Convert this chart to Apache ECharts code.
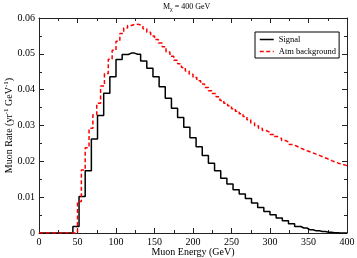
<!DOCTYPE html>
<html>
<head>
<meta charset="utf-8">
<script src="https://cdn.jsdelivr.net/npm/echarts@6/dist/echarts.min.js"></script>
<style>
  html, body { margin: 0; padding: 0; background: #fff; }
  #chart { width: 357px; height: 258px; }
</style>
</head>
<body>
<div id="chart"></div>
<script>
// Signal: 8 GeV bins, bin centres 0, 8, ..., 400 GeV
const signalBinWidth = 8;
const signalRate = [
  0, 0, 0, 0, 0, 0, 0.0018, 0.0102, 0.0174, 0.0262,
  0.0328, 0.0390, 0.0436, 0.0484, 0.0498, 0.0502, 0.0499, 0.0480, 0.0460, 0.0436,
  0.0408, 0.0376, 0.0348, 0.0322, 0.0295, 0.0266, 0.0241, 0.0216, 0.0195, 0.0174,
  0.0153, 0.0137, 0.0121, 0.0109, 0.0096, 0.0084, 0.0071, 0.0060, 0.0051, 0.0042,
  0.0034, 0.0026, 0.0018, 0.0014, 0.0009, 0.0006, 0.0004, 0.0002, 0.0001, 0,
  0
];
// Atmospheric background: 5 GeV bins, left edges 0, 5, ..., 395 GeV
const bgBinWidth = 5;
const bgRate = [
  0, 0, 0, 0, 0, 0, 0, 0, 0, 0,
  0.0088, 0.0176, 0.0238, 0.0292, 0.0330, 0.0362, 0.0410, 0.0445, 0.0485, 0.0510,
  0.0535, 0.0557, 0.0572, 0.0579, 0.0583, 0.0582, 0.0578, 0.0570, 0.0560, 0.0550,
  0.0540, 0.0530, 0.0520, 0.0505, 0.0493, 0.0482, 0.0472, 0.0462, 0.0452, 0.0443,
  0.0434, 0.0425, 0.0416, 0.0406, 0.0397, 0.0389, 0.0380, 0.0370, 0.0362, 0.0355,
  0.0347, 0.0340, 0.0333, 0.0325, 0.0316, 0.0307, 0.0299, 0.0292, 0.0286, 0.0281,
  0.0275, 0.0269, 0.0264, 0.0258, 0.0253, 0.0247, 0.0242, 0.0237, 0.0232, 0.0228,
  0.0224, 0.0220, 0.0216, 0.0211, 0.0207, 0.0202, 0.0198, 0.0194, 0.0191, 0.0188
];
const xTicks = [0, 50, 100, 150, 200, 250, 300, 350, 400];
const yTicks = [0, 0.01, 0.02, 0.03, 0.04, 0.05, 0.06];
const seriesNames = ['Signal', 'Atm background'];

const signalData = signalRate.map((v, i) => [i * signalBinWidth, v]);
const bgData = bgRate.map((v, i) => [i * bgBinWidth, v]);
bgData.push([bgRate.length * bgBinWidth, bgRate[bgRate.length - 1]]);

const FONT = 'Liberation Serif';
const AX = '#222';

function xAxisBase(pos, show) {
  return {
    type: 'value', position: pos,
    min: xTicks[0], max: xTicks[xTicks.length - 1], interval: xTicks[1] - xTicks[0],
    axisLine: { show: true, onZero: false, lineStyle: { color: AX, width: 1 } },
    axisTick: { show: true, inside: true, length: 5, lineStyle: { color: AX, width: 1 } },
    minorTick: { show: true, splitNumber: 2, length: 3, lineStyle: { color: AX, width: 1 } },
    splitLine: { show: false },
    axisLabel: { show: show, fontFamily: FONT, fontSize: 10, color: '#000', margin: 4 }
  };
}
function yAxisBase(pos, show) {
  return {
    type: 'value', position: pos,
    min: yTicks[0], max: yTicks[yTicks.length - 1], interval: yTicks[1] - yTicks[0],
    axisLine: { show: true, onZero: false, lineStyle: { color: AX, width: 1 } },
    axisTick: { show: true, inside: true, length: 5, lineStyle: { color: AX, width: 1 } },
    minorTick: { show: true, splitNumber: 2, length: 3, lineStyle: { color: AX, width: 1 } },
    splitLine: { show: false },
    axisLabel: { show: show, fontFamily: FONT, fontSize: 10, color: '#000', margin: 4 }
  };
}

const xBottom = Object.assign(xAxisBase('bottom', true), {
  name: 'Muon Energy (GeV)', nameLocation: 'middle', nameGap: 14, nameMoveOverlap: false,
  nameTextStyle: { fontFamily: FONT, fontSize: 10, color: '#000' }
});
const yLeft = Object.assign(yAxisBase('left', true), {
  name: '{a|Muon Rate (yr}{s|-1}{a| GeV}{s|-1}{a|)}', nameLocation: 'middle', nameGap: 23, nameMoveOverlap: false,
  nameTextStyle: {
    fontFamily: FONT, fontSize: 10, color: '#000',
    rich: {
      a: { fontFamily: FONT, fontSize: 10, color: '#000', lineHeight: 13 },
      s: { fontFamily: FONT, fontSize: 7, color: '#000', lineHeight: 7, verticalAlign: 'top' }
    }
  }
});

const chart = echarts.init(document.getElementById('chart'), null, { renderer: 'canvas' });
chart.setOption({
  animation: false,
  backgroundColor: '#fff',
  title: {
    text: '{m|M}{s|χ}{m| = 400 GeV}',
    left: 163, top: 1, padding: 0,
    textStyle: {
      fontFamily: FONT, fontSize: 8, color: '#000', fontWeight: 'normal',
      rich: {
        m: { fontFamily: FONT, fontSize: 8, color: '#000', lineHeight: 11 },
        s: { fontFamily: FONT, fontSize: 6, color: '#000', lineHeight: 6, verticalAlign: 'bottom' }
      }
    }
  },
  grid: { left: 39, right: 10, top: 18, bottom: 25, containLabel: false, outerBoundsMode: 'none' },
  xAxis: [xBottom, xAxisBase('top', false)],
  yAxis: [yLeft, yAxisBase('right', false)],
  legend: {
    orient: 'vertical', left: 255, top: 32,
    padding: [3, 3, 2, 4], itemGap: 3, itemWidth: 14, itemHeight: 8,
    borderColor: '#000', borderWidth: 1, borderRadius: 0, backgroundColor: '#fff',
    itemStyle: { opacity: 0 },
    lineStyle: { width: 1.5 },
    textStyle: { fontFamily: FONT, fontSize: 8.5, color: '#000' },
    data: seriesNames
  },
  series: [
    {
      name: seriesNames[0], type: 'line', step: 'middle', xAxisIndex: 0, yAxisIndex: 0,
      data: signalData, symbol: 'none', showSymbol: false,
      lineStyle: { color: '#000', width: 1.5 }, itemStyle: { color: '#000' }, z: 2
    },
    {
      name: seriesNames[1], type: 'line', step: 'end', xAxisIndex: 0, yAxisIndex: 0,
      data: bgData, symbol: 'none', showSymbol: false,
      lineStyle: { color: '#ff0000', width: 1.5, type: [4, 2.5] }, itemStyle: { color: '#ff0000' }, z: 3
    }
  ]
});
</script>
</body>
</html>
